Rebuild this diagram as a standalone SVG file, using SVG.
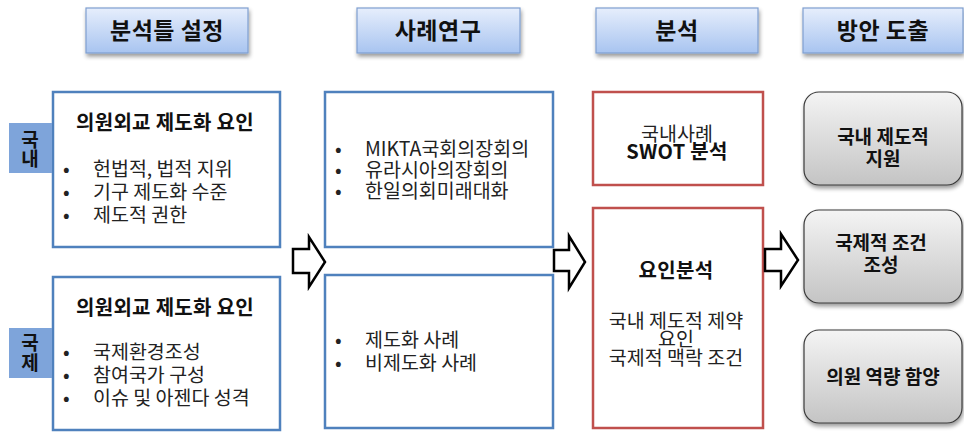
<svg xmlns="http://www.w3.org/2000/svg" width="964" height="432" viewBox="0 0 964 432">
<defs>
<linearGradient id="hdr" x1="0" y1="0" x2="0" y2="1">
<stop offset="0" stop-color="#e6eefc"/>
<stop offset="1" stop-color="#a8c4f0"/>
</linearGradient>
<linearGradient id="gry" x1="0" y1="0" x2="0" y2="1">
<stop offset="0" stop-color="#f4f4f4"/>
<stop offset="1" stop-color="#c4c4c4"/>
</linearGradient>
<filter id="sh" x="-10%" y="-10%" width="130%" height="140%">
<feGaussianBlur in="SourceAlpha" stdDeviation="2"/>
<feOffset dx="1" dy="3" result="b"/>
<feComponentTransfer><feFuncA type="linear" slope="0.4"/></feComponentTransfer>
<feMerge><feMergeNode/><feMergeNode in="SourceGraphic"/></feMerge>
</filter>
</defs>
<style>
text{font-family:"Noto Sans CJK KR","Malgun Gothic",sans-serif;fill:#111}
.h{font-size:23px;font-weight:bold;text-anchor:middle;letter-spacing:0.5px}
.hb{fill:url(#hdr);stroke:#7f9fd0;stroke-width:1.2}
.bb{fill:#fff;stroke:#4f81bd;stroke-width:2.5}
.rb{fill:#fff;stroke:#c0504d;stroke-width:2.5}
.gb{fill:url(#gry);stroke:#3a3a3a;stroke-width:1.2}
.tab{fill:#7ea4da}
.tt{font-size:19px;font-weight:bold;text-anchor:middle}
.t{font-size:20px;font-weight:bold;text-anchor:middle;letter-spacing:0.3px}
.b{font-size:19.5px;fill:#222}
.c{font-size:19.5px;text-anchor:middle;fill:#222}
.g{font-size:19px;font-weight:bold;text-anchor:middle}
.arr{fill:#fff;stroke:#000;stroke-width:2.5;stroke-linejoin:miter}
</style>
<g id="h1"><rect class="hb" x="86" y="8" width="162" height="45" filter="url(#sh)"/><text class="h" x="167" y="39">분석틀 설정</text></g>
<g id="h2"><rect class="hb" x="357" y="8" width="163" height="45" filter="url(#sh)"/><text class="h" x="438" y="39">사례연구</text></g>
<g id="h3"><rect class="hb" x="596" y="8" width="162" height="45" filter="url(#sh)"/><text class="h" x="677" y="39">분석</text></g>
<g id="h4"><rect class="hb" x="803" y="8" width="160" height="45" filter="url(#sh)"/><text class="h" x="883" y="39">방안 도출</text></g>

<g id="domestic">
<rect class="bb" x="53" y="92" width="227" height="155"/>
<rect class="tab" x="9" y="123" width="43" height="50"/>
<text class="tt" x="30" y="147">국</text><text class="tt" x="30" y="166">내</text>
<text class="t" x="165" y="130">의원외교 제도화 요인</text>
<text class="b" x="63" y="176">•</text><text class="b" x="93" y="176">헌법적, 법적 지위</text>
<text class="b" x="63" y="199">•</text><text class="b" x="93" y="199">기구 제도화 수준</text>
<text class="b" x="63" y="222">•</text><text class="b" x="93" y="222">제도적 권한</text>
</g>
<g id="international">
<rect class="bb" x="53" y="277" width="227" height="153"/>
<rect class="tab" x="9" y="328" width="43" height="50"/>
<text class="tt" x="30" y="350">국</text><text class="tt" x="30" y="370">제</text>
<text class="t" x="165" y="315">의원외교 제도화 요인</text>
<text class="b" x="63" y="359">•</text><text class="b" x="93" y="359">국제환경조성</text>
<text class="b" x="63" y="382">•</text><text class="b" x="93" y="382">참여국가 구성</text>
<text class="b" x="63" y="405">•</text><text class="b" x="93" y="405">이슈 및 아젠다 성격</text>
</g>
<g id="case1">
<rect class="bb" x="325" y="92" width="228" height="155"/>
<text class="b" x="335" y="156">•</text><text class="b" x="365" y="156">MIKTA국회의장회의</text>
<text class="b" x="335" y="177">•</text><text class="b" x="365" y="177">유라시아의장회의</text>
<text class="b" x="335" y="198">•</text><text class="b" x="365" y="198">한일의회미래대화</text>
</g>
<g id="case2">
<rect class="bb" x="325" y="275" width="228" height="153"/>
<text class="b" x="335" y="347">•</text><text class="b" x="365" y="347">제도화 사례</text>
<text class="b" x="335" y="370">•</text><text class="b" x="365" y="370">비제도화 사례</text>
</g>
<g id="swot">
<rect class="rb" x="593" y="92" width="170" height="93"/>
<text class="c" x="677" y="141">국내사례</text>
<text class="t" x="677" y="159">SWOT 분석</text>
</g>
<g id="factor">
<rect class="rb" x="593" y="208" width="170" height="220"/>
<text class="t" x="676" y="278">요인분석</text>
<text class="c" x="676" y="328">국내 제도적 제약</text>
<text class="c" x="676" y="346">요인</text>
<text class="c" x="676" y="365">국제적 맥락 조건</text>
</g>
<g id="r1"><rect class="gb" x="804" y="92" width="158" height="93" rx="15" filter="url(#sh)"/>
<text class="g" x="883" y="144">국내 제도적</text><text class="g" x="883" y="166">지원</text></g>
<g id="r2"><rect class="gb" x="804" y="210" width="158" height="93" rx="15" filter="url(#sh)"/>
<text class="g" x="881" y="250">국제적 조건</text><text class="g" x="881" y="272">조성</text></g>
<g id="r3"><rect class="gb" x="804" y="330" width="158" height="93" rx="15" filter="url(#sh)"/>
<text class="g" x="883" y="384">의원 역량 함양</text></g>

<g id="connectors">
<polygon class="arr" points="293,249 309,249 309,237 325,262 309,287 309,273 293,273"/>
<polygon class="arr" points="554,250 569,250 569,236 585,262 569,288 569,271 554,271"/>
<polygon class="arr" points="765,249 781,249 781,234 798,260 781,286 781,271 765,271"/>
</g>
</svg>
